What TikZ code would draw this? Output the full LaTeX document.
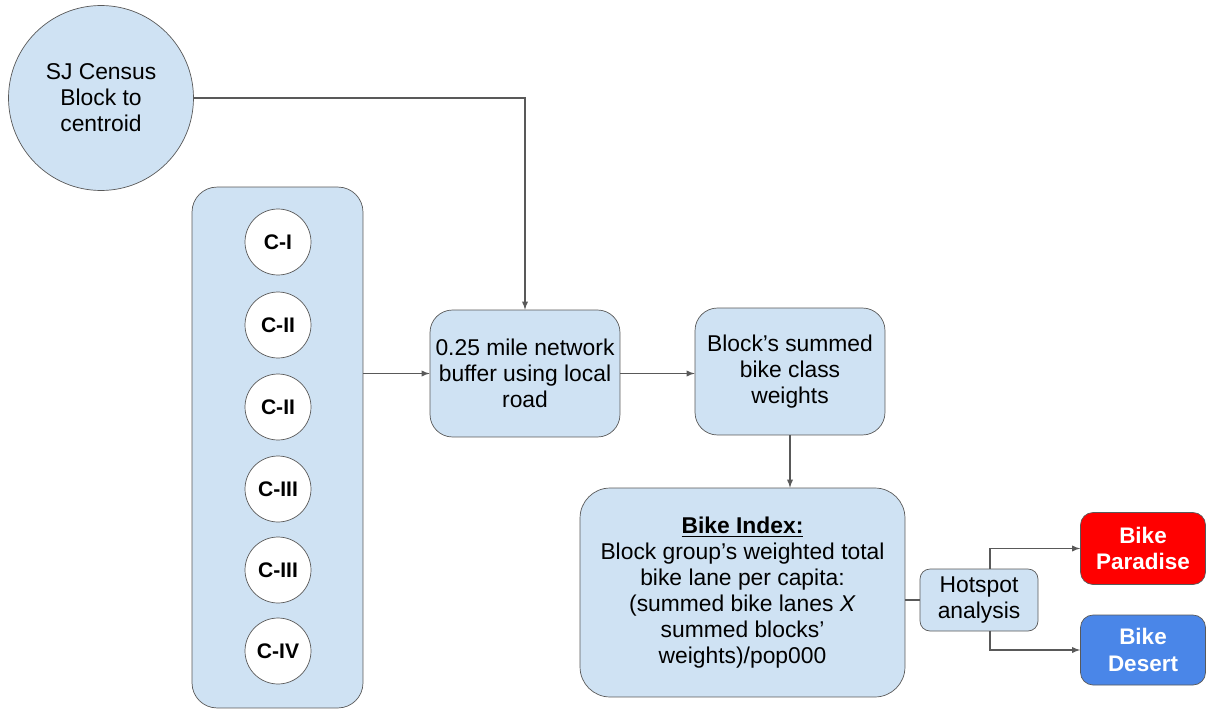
\documentclass[tikz,border=0pt]{standalone}
\usepackage{fontspec}
\setmainfont{Liberation Sans}
\usepackage{tikz}
\definecolor{paleblue}{HTML}{CFE2F3}
\definecolor{linegray}{HTML}{595959}
\definecolor{hotred}{HTML}{FF0000}
\definecolor{coolblue}{HTML}{4A86E8}

\begin{document}
\begin{tikzpicture}[
  x=0.02cm, y=-0.02cm,
  every node/.style={font=\fontsize{13}{14.8}\selectfont, align=center, inner sep=2pt},
  conn/.style={draw=linegray, line width=0.6pt},
  arr/.style={conn,-latex},
  step box/.style={shape=rectangle, rounded corners=0.45cm, draw=linegray, fill=paleblue,
    minimum width=3.8cm, minimum height=2.54cm},
  cls/.style={shape=circle, draw=linegray, fill=white, minimum size=1.32cm, font=\fontsize{12}{14}\selectfont\bfseries},
  result/.style={shape=rectangle, rounded corners=0.25cm, draw=linegray, text=white,
    minimum width=2.5cm, minimum height=1.44cm, font=\fontsize{12.8}{15}\selectfont\bfseries}
]
\useasboundingbox (0,0) rectangle (1207,710);

\node [shape=circle, draw=linegray, fill=paleblue, minimum size=3.7cm] (census) at (101,98)
  {SJ Census\\Block to\\centroid};

\node [shape=rectangle, rounded corners=0.5cm, draw=linegray, fill=paleblue,
  minimum width=3.42cm, minimum height=10.42cm] (group) at (277.5,447.5) {};
\foreach \lab/\y [count=\i] in {C-I/242, C-II/325, C-II/407, C-III/489, C-III/570, C-IV/651}
  \node [cls] (c\i) at (278,\y) {\lab};

\node [step box] (buffer) at (525,373.5) {0.25 mile network\\buffer using local\\road};
\node [step box] (weights) at (790,371.5) {Block's summed\\bike class\\weights};
\node [step box, minimum width=6.5cm, minimum height=4.18cm, rounded corners=0.6cm] (index) at (742.5,592.5)
  {\underline{\textbf{Bike Index:}}\\Block group's weighted total\\bike lane per capita:\\(summed bike lanes \textit{X}\\summed blocks'\\weights)/pop000};
\node [step box, minimum width=2.36cm, minimum height=1.24cm, rounded corners=0.2cm] (hotspot) at (979,600)
  {Hotspot\\analysis};
\node [result, fill=hotred] (paradise) at (1143,548.5) {Bike\\Paradise};
\node [result, fill=coolblue, minimum height=1.4cm] (desert) at (1143,650) {Bike\\Desert};

\draw [arr] (census.east) -| (buffer.north);
\draw [arr] (group.east |- buffer.west) -- (buffer.west);
\draw [arr] (buffer.east) -- (buffer.east -| weights.west);
\draw [arr] (weights.south) -- (weights.south |- index.north);
\draw [conn] (index.east |- hotspot.west) -- (hotspot.west);
\draw [arr] ([xshift=0.22cm]hotspot.north) |- (paradise.west);
\draw [arr] ([xshift=0.22cm]hotspot.south) |- (desert.west);
\end{tikzpicture}
\end{document}
